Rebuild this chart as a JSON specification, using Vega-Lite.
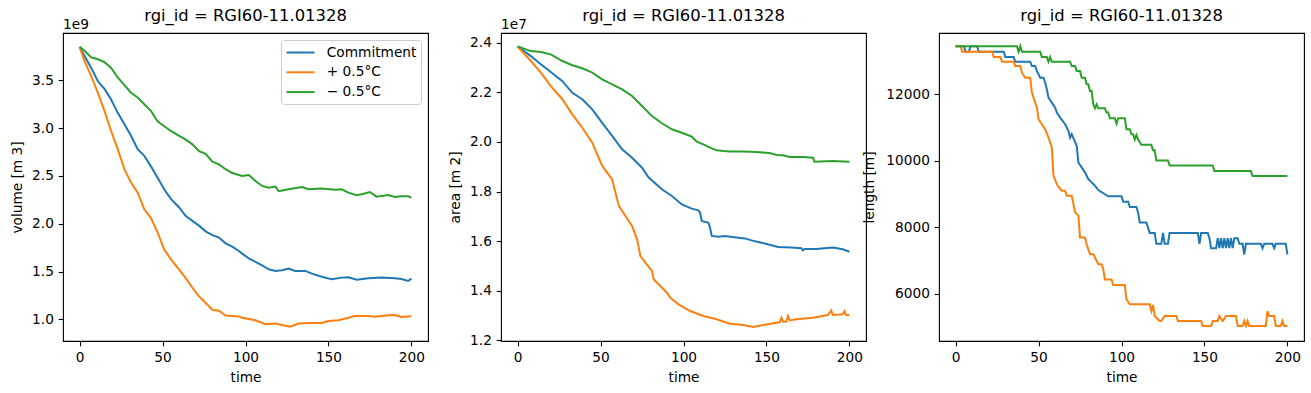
{
  "$schema": "https://vega.github.io/schema/vega-lite/v6.json",
  "background": "white",
  "padding": {"left": 10, "top": 7, "right": 0, "bottom": 0},
  "config": {
    "font": "DejaVu Sans",
    "view": {"stroke": "black", "strokeWidth": 1.1},
    "axis": {
      "grid": false, "domain": false,
      "tickColor": "black", "tickWidth": 1.1, "tickSize": 4.8,
      "labelPadding": 4.8, "labelFontSize": 13.7, "labelColor": "black",
      "titleFontSize": 13.7, "titleFontWeight": "normal", "titleColor": "black"
    },
    "axisX": {"titlePadding": 6},
    "title": {"fontSize": 16.4, "fontWeight": "normal", "color": "black", "offset": 8.3, "baseline": "alphabetic", "anchor": "middle"},
    "legend": {
      "orient": "top-right", "offset": 7, "padding": 4.5, "rowPadding": 4.8,
      "fillColor": "rgba(255,255,255,0.8)", "strokeColor": "#cccccc", "cornerRadius": 3,
      "symbolType": "M-1,0L3,0", "symbolSize": 196, "symbolStrokeWidth": 2,
      "labelFontSize": 13.7, "labelColor": "black", "labelOffset": 25.3, "title": null
    }
  },
  "datasets": {
    "vol": [
      {"s":"Commitment","t":0,"v":3.85e9},{"s":"Commitment","t":3,"v":3.755e9},{"s":"Commitment","t":7,"v":3.63e9},{"s":"Commitment","t":11,"v":3.49e9},{"s":"Commitment","t":13,"v":3.45e9},{"s":"Commitment","t":15,"v":3.41e9},{"s":"Commitment","t":19,"v":3.30e9},{"s":"Commitment","t":23,"v":3.16e9},{"s":"Commitment","t":27,"v":3.04e9},{"s":"Commitment","t":31,"v":2.92e9},{"s":"Commitment","t":35,"v":2.78e9},{"s":"Commitment","t":39,"v":2.71e9},{"s":"Commitment","t":43,"v":2.60e9},{"s":"Commitment","t":47,"v":2.48e9},{"s":"Commitment","t":51,"v":2.36e9},{"s":"Commitment","t":55,"v":2.26e9},{"s":"Commitment","t":60,"v":2.17e9},{"s":"Commitment","t":64,"v":2.08e9},{"s":"Commitment","t":68,"v":2.03e9},{"s":"Commitment","t":72,"v":1.98e9},{"s":"Commitment","t":76,"v":1.92e9},{"s":"Commitment","t":80,"v":1.88e9},{"s":"Commitment","t":84,"v":1.855e9},{"s":"Commitment","t":88,"v":1.795e9},{"s":"Commitment","t":92,"v":1.76e9},{"s":"Commitment","t":96,"v":1.715e9},{"s":"Commitment","t":98,"v":1.687e9},{"s":"Commitment","t":102,"v":1.638e9},{"s":"Commitment","t":106,"v":1.60e9},{"s":"Commitment","t":110,"v":1.565e9},{"s":"Commitment","t":114,"v":1.523e9},{"s":"Commitment","t":118,"v":1.506e9},{"s":"Commitment","t":122,"v":1.513e9},{"s":"Commitment","t":126,"v":1.53e9},{"s":"Commitment","t":130,"v":1.506e9},{"s":"Commitment","t":136,"v":1.506e9},{"s":"Commitment","t":140,"v":1.478e9},{"s":"Commitment","t":146,"v":1.446e9},{"s":"Commitment","t":152,"v":1.418e9},{"s":"Commitment","t":158,"v":1.436e9},{"s":"Commitment","t":162,"v":1.44e9},{"s":"Commitment","t":167,"v":1.415e9},{"s":"Commitment","t":174,"v":1.429e9},{"s":"Commitment","t":182,"v":1.436e9},{"s":"Commitment","t":190,"v":1.429e9},{"s":"Commitment","t":194,"v":1.422e9},{"s":"Commitment","t":198,"v":1.401e9},{"s":"Commitment","t":200,"v":1.425e9},
      {"s":"+ 0.5°C","t":0,"v":3.85e9},{"s":"+ 0.5°C","t":3,"v":3.70e9},{"s":"+ 0.5°C","t":7,"v":3.545e9},{"s":"+ 0.5°C","t":11,"v":3.37e9},{"s":"+ 0.5°C","t":15,"v":3.18e9},{"s":"+ 0.5°C","t":19,"v":2.97e9},{"s":"+ 0.5°C","t":23,"v":2.78e9},{"s":"+ 0.5°C","t":27,"v":2.57e9},{"s":"+ 0.5°C","t":31,"v":2.43e9},{"s":"+ 0.5°C","t":35,"v":2.325e9},{"s":"+ 0.5°C","t":39,"v":2.15e9},{"s":"+ 0.5°C","t":43,"v":2.06e9},{"s":"+ 0.5°C","t":47,"v":1.91e9},{"s":"+ 0.5°C","t":51,"v":1.73e9},{"s":"+ 0.5°C","t":55,"v":1.63e9},{"s":"+ 0.5°C","t":60,"v":1.52e9},{"s":"+ 0.5°C","t":64,"v":1.43e9},{"s":"+ 0.5°C","t":68,"v":1.33e9},{"s":"+ 0.5°C","t":72,"v":1.24e9},{"s":"+ 0.5°C","t":76,"v":1.17e9},{"s":"+ 0.5°C","t":80,"v":1.10e9},{"s":"+ 0.5°C","t":84,"v":1.09e9},{"s":"+ 0.5°C","t":88,"v":1.04e9},{"s":"+ 0.5°C","t":96,"v":1.03e9},{"s":"+ 0.5°C","t":98,"v":1.017e9},{"s":"+ 0.5°C","t":106,"v":0.99e9},{"s":"+ 0.5°C","t":112,"v":0.948e9},{"s":"+ 0.5°C","t":118,"v":0.955e9},{"s":"+ 0.5°C","t":122,"v":0.941e9},{"s":"+ 0.5°C","t":127,"v":0.923e9},{"s":"+ 0.5°C","t":132,"v":0.955e9},{"s":"+ 0.5°C","t":138,"v":0.962e9},{"s":"+ 0.5°C","t":146,"v":0.962e9},{"s":"+ 0.5°C","t":150,"v":0.983e9},{"s":"+ 0.5°C","t":156,"v":0.99e9},{"s":"+ 0.5°C","t":162,"v":1.017e9},{"s":"+ 0.5°C","t":166,"v":1.035e9},{"s":"+ 0.5°C","t":174,"v":1.035e9},{"s":"+ 0.5°C","t":178,"v":1.028e9},{"s":"+ 0.5°C","t":186,"v":1.042e9},{"s":"+ 0.5°C","t":190,"v":1.045e9},{"s":"+ 0.5°C","t":194,"v":1.024e9},{"s":"+ 0.5°C","t":200,"v":1.031e9},
      {"s":"− 0.5°C","t":0,"v":3.85e9},{"s":"− 0.5°C","t":3,"v":3.81e9},{"s":"− 0.5°C","t":7,"v":3.74e9},{"s":"− 0.5°C","t":11,"v":3.72e9},{"s":"− 0.5°C","t":15,"v":3.69e9},{"s":"− 0.5°C","t":19,"v":3.63e9},{"s":"− 0.5°C","t":23,"v":3.53e9},{"s":"− 0.5°C","t":27,"v":3.45e9},{"s":"− 0.5°C","t":31,"v":3.37e9},{"s":"− 0.5°C","t":35,"v":3.32e9},{"s":"− 0.5°C","t":39,"v":3.25e9},{"s":"− 0.5°C","t":43,"v":3.18e9},{"s":"− 0.5°C","t":47,"v":3.07e9},{"s":"− 0.5°C","t":51,"v":3.02e9},{"s":"− 0.5°C","t":55,"v":2.97e9},{"s":"− 0.5°C","t":60,"v":2.92e9},{"s":"− 0.5°C","t":64,"v":2.88e9},{"s":"− 0.5°C","t":68,"v":2.83e9},{"s":"− 0.5°C","t":72,"v":2.76e9},{"s":"− 0.5°C","t":76,"v":2.73e9},{"s":"− 0.5°C","t":80,"v":2.65e9},{"s":"− 0.5°C","t":84,"v":2.62e9},{"s":"− 0.5°C","t":88,"v":2.57e9},{"s":"− 0.5°C","t":92,"v":2.53e9},{"s":"− 0.5°C","t":96,"v":2.51e9},{"s":"− 0.5°C","t":98,"v":2.50e9},{"s":"− 0.5°C","t":102,"v":2.51e9},{"s":"− 0.5°C","t":106,"v":2.447e9},{"s":"− 0.5°C","t":110,"v":2.395e9},{"s":"− 0.5°C","t":114,"v":2.377e9},{"s":"− 0.5°C","t":118,"v":2.388e9},{"s":"− 0.5°C","t":120,"v":2.34e9},{"s":"− 0.5°C","t":126,"v":2.36e9},{"s":"− 0.5°C","t":134,"v":2.384e9},{"s":"− 0.5°C","t":138,"v":2.36e9},{"s":"− 0.5°C","t":146,"v":2.367e9},{"s":"− 0.5°C","t":154,"v":2.356e9},{"s":"− 0.5°C","t":158,"v":2.36e9},{"s":"− 0.5°C","t":162,"v":2.325e9},{"s":"− 0.5°C","t":167,"v":2.297e9},{"s":"− 0.5°C","t":170,"v":2.308e9},{"s":"− 0.5°C","t":175,"v":2.332e9},{"s":"− 0.5°C","t":179,"v":2.283e9},{"s":"− 0.5°C","t":186,"v":2.30e9},{"s":"− 0.5°C","t":190,"v":2.28e9},{"s":"− 0.5°C","t":194,"v":2.287e9},{"s":"− 0.5°C","t":198,"v":2.287e9},{"s":"− 0.5°C","t":200,"v":2.273e9}
    ],
    "area": [
      {"s":"Commitment","t":0,"v":2.385e7},{"s":"Commitment","t":8,"v":2.346e7},{"s":"Commitment","t":14,"v":2.313e7},{"s":"Commitment","t":20,"v":2.282e7},{"s":"Commitment","t":27,"v":2.245e7},{"s":"Commitment","t":33,"v":2.198e7},{"s":"Commitment","t":39,"v":2.172e7},{"s":"Commitment","t":45,"v":2.131e7},{"s":"Commitment","t":51,"v":2.077e7},{"s":"Commitment","t":57,"v":2.024e7},{"s":"Commitment","t":63,"v":1.97e7},{"s":"Commitment","t":69,"v":1.936e7},{"s":"Commitment","t":75,"v":1.896e7},{"s":"Commitment","t":79,"v":1.856e7},{"s":"Commitment","t":87,"v":1.809e7},{"s":"Commitment","t":93,"v":1.782e7},{"s":"Commitment","t":99,"v":1.748e7},{"s":"Commitment","t":105,"v":1.731e7},{"s":"Commitment","t":109,"v":1.724e7},{"s":"Commitment","t":110,"v":1.715e7},{"s":"Commitment","t":111,"v":1.681e7},{"s":"Commitment","t":115,"v":1.674e7},{"s":"Commitment","t":116,"v":1.654e7},{"s":"Commitment","t":117,"v":1.621e7},{"s":"Commitment","t":121,"v":1.618e7},{"s":"Commitment","t":125,"v":1.621e7},{"s":"Commitment","t":133,"v":1.614e7},{"s":"Commitment","t":137,"v":1.611e7},{"s":"Commitment","t":141,"v":1.603e7},{"s":"Commitment","t":149,"v":1.59e7},{"s":"Commitment","t":157,"v":1.576e7},{"s":"Commitment","t":165,"v":1.574e7},{"s":"Commitment","t":171,"v":1.571e7},{"s":"Commitment","t":172,"v":1.563e7},{"s":"Commitment","t":173,"v":1.568e7},{"s":"Commitment","t":180,"v":1.568e7},{"s":"Commitment","t":190,"v":1.574e7},{"s":"Commitment","t":196,"v":1.567e7},{"s":"Commitment","t":200,"v":1.557e7},
      {"s":"+ 0.5°C","t":0,"v":2.384e7},{"s":"+ 0.5°C","t":8,"v":2.326e7},{"s":"+ 0.5°C","t":14,"v":2.279e7},{"s":"+ 0.5°C","t":20,"v":2.225e7},{"s":"+ 0.5°C","t":27,"v":2.172e7},{"s":"+ 0.5°C","t":33,"v":2.111e7},{"s":"+ 0.5°C","t":39,"v":2.057e7},{"s":"+ 0.5°C","t":45,"v":1.997e7},{"s":"+ 0.5°C","t":51,"v":1.903e7},{"s":"+ 0.5°C","t":57,"v":1.849e7},{"s":"+ 0.5°C","t":61,"v":1.742e7},{"s":"+ 0.5°C","t":65,"v":1.701e7},{"s":"+ 0.5°C","t":69,"v":1.661e7},{"s":"+ 0.5°C","t":72,"v":1.607e7},{"s":"+ 0.5°C","t":74,"v":1.54e7},{"s":"+ 0.5°C","t":77,"v":1.513e7},{"s":"+ 0.5°C","t":81,"v":1.48e7},{"s":"+ 0.5°C","t":82,"v":1.446e7},{"s":"+ 0.5°C","t":85,"v":1.426e7},{"s":"+ 0.5°C","t":90,"v":1.392e7},{"s":"+ 0.5°C","t":92,"v":1.372e7},{"s":"+ 0.5°C","t":97,"v":1.345e7},{"s":"+ 0.5°C","t":104,"v":1.318e7},{"s":"+ 0.5°C","t":112,"v":1.298e7},{"s":"+ 0.5°C","t":120,"v":1.285e7},{"s":"+ 0.5°C","t":128,"v":1.267e7},{"s":"+ 0.5°C","t":136,"v":1.262e7},{"s":"+ 0.5°C","t":142,"v":1.254e7},{"s":"+ 0.5°C","t":148,"v":1.262e7},{"s":"+ 0.5°C","t":156,"v":1.271e7},{"s":"+ 0.5°C","t":158,"v":1.273e7},{"s":"+ 0.5°C","t":159,"v":1.291e7},{"s":"+ 0.5°C","t":160,"v":1.275e7},{"s":"+ 0.5°C","t":162,"v":1.276e7},{"s":"+ 0.5°C","t":163,"v":1.298e7},{"s":"+ 0.5°C","t":164,"v":1.28e7},{"s":"+ 0.5°C","t":168,"v":1.285e7},{"s":"+ 0.5°C","t":178,"v":1.291e7},{"s":"+ 0.5°C","t":187,"v":1.302e7},{"s":"+ 0.5°C","t":189,"v":1.321e7},{"s":"+ 0.5°C","t":190,"v":1.302e7},{"s":"+ 0.5°C","t":196,"v":1.305e7},{"s":"+ 0.5°C","t":197,"v":1.318e7},{"s":"+ 0.5°C","t":198,"v":1.302e7},{"s":"+ 0.5°C","t":200,"v":1.302e7},
      {"s":"− 0.5°C","t":0,"v":2.385e7},{"s":"− 0.5°C","t":8,"v":2.366e7},{"s":"− 0.5°C","t":14,"v":2.362e7},{"s":"− 0.5°C","t":20,"v":2.353e7},{"s":"− 0.5°C","t":27,"v":2.326e7},{"s":"− 0.5°C","t":33,"v":2.309e7},{"s":"− 0.5°C","t":39,"v":2.297e7},{"s":"− 0.5°C","t":45,"v":2.279e7},{"s":"− 0.5°C","t":51,"v":2.252e7},{"s":"− 0.5°C","t":57,"v":2.232e7},{"s":"− 0.5°C","t":63,"v":2.212e7},{"s":"− 0.5°C","t":69,"v":2.185e7},{"s":"− 0.5°C","t":75,"v":2.145e7},{"s":"− 0.5°C","t":81,"v":2.104e7},{"s":"− 0.5°C","t":87,"v":2.075e7},{"s":"− 0.5°C","t":93,"v":2.051e7},{"s":"− 0.5°C","t":99,"v":2.037e7},{"s":"− 0.5°C","t":105,"v":2.021e7},{"s":"− 0.5°C","t":108,"v":2.001e7},{"s":"− 0.5°C","t":112,"v":1.99e7},{"s":"− 0.5°C","t":116,"v":1.977e7},{"s":"− 0.5°C","t":120,"v":1.966e7},{"s":"− 0.5°C","t":124,"v":1.963e7},{"s":"− 0.5°C","t":128,"v":1.961e7},{"s":"− 0.5°C","t":136,"v":1.961e7},{"s":"− 0.5°C","t":144,"v":1.959e7},{"s":"− 0.5°C","t":152,"v":1.955e7},{"s":"− 0.5°C","t":156,"v":1.947e7},{"s":"− 0.5°C","t":160,"v":1.946e7},{"s":"− 0.5°C","t":164,"v":1.939e7},{"s":"− 0.5°C","t":172,"v":1.939e7},{"s":"− 0.5°C","t":178,"v":1.936e7},{"s":"− 0.5°C","t":179,"v":1.92e7},{"s":"− 0.5°C","t":190,"v":1.923e7},{"s":"− 0.5°C","t":200,"v":1.92e7}
    ],
    "len": [
      {"s":"Commitment","t":0,"v":13450},{"s":"Commitment","t":5,"v":13450},{"s":"Commitment","t":6,"v":13280},{"s":"Commitment","t":8,"v":13280},{"s":"Commitment","t":9,"v":13450},{"s":"Commitment","t":13,"v":13450},{"s":"Commitment","t":14,"v":13280},{"s":"Commitment","t":29,"v":13280},{"s":"Commitment","t":30,"v":13120},{"s":"Commitment","t":35,"v":13120},{"s":"Commitment","t":36,"v":12980},{"s":"Commitment","t":45,"v":12980},{"s":"Commitment","t":46,"v":12850},{"s":"Commitment","t":48,"v":12850},{"s":"Commitment","t":49,"v":12700},{"s":"Commitment","t":50,"v":12600},{"s":"Commitment","t":51,"v":12500},{"s":"Commitment","t":53,"v":12500},{"s":"Commitment","t":54,"v":12350},{"s":"Commitment","t":55,"v":12150},{"s":"Commitment","t":56,"v":11900},{"s":"Commitment","t":58,"v":11750},{"s":"Commitment","t":60,"v":11600},{"s":"Commitment","t":61,"v":11450},{"s":"Commitment","t":63,"v":11300},{"s":"Commitment","t":66,"v":11100},{"s":"Commitment","t":68,"v":10900},{"s":"Commitment","t":69,"v":10700},{"s":"Commitment","t":70,"v":10800},{"s":"Commitment","t":71,"v":10680},{"s":"Commitment","t":73,"v":10450},{"s":"Commitment","t":74,"v":9950},{"s":"Commitment","t":76,"v":9800},{"s":"Commitment","t":78,"v":9650},{"s":"Commitment","t":80,"v":9450},{"s":"Commitment","t":82,"v":9350},{"s":"Commitment","t":84,"v":9250},{"s":"Commitment","t":86,"v":9120},{"s":"Commitment","t":92,"v":8930},{"s":"Commitment","t":100,"v":8930},{"s":"Commitment","t":101,"v":8770},{"s":"Commitment","t":104,"v":8770},{"s":"Commitment","t":105,"v":8610},{"s":"Commitment","t":109,"v":8610},{"s":"Commitment","t":110,"v":8440},{"s":"Commitment","t":111,"v":8140},{"s":"Commitment","t":115,"v":8140},{"s":"Commitment","t":116,"v":7990},{"s":"Commitment","t":117,"v":7830},{"s":"Commitment","t":120,"v":7830},{"s":"Commitment","t":121,"v":7500},{"s":"Commitment","t":124,"v":7500},{"s":"Commitment","t":125,"v":7830},{"s":"Commitment","t":126,"v":7500},{"s":"Commitment","t":128,"v":7500},{"s":"Commitment","t":129,"v":7830},{"s":"Commitment","t":146,"v":7830},{"s":"Commitment","t":147,"v":7500},{"s":"Commitment","t":148,"v":7830},{"s":"Commitment","t":152,"v":7830},{"s":"Commitment","t":153,"v":7670},{"s":"Commitment","t":154,"v":7370},{"s":"Commitment","t":157,"v":7370},{"s":"Commitment","t":158,"v":7670},{"s":"Commitment","t":159,"v":7370},{"s":"Commitment","t":160,"v":7670},{"s":"Commitment","t":161,"v":7370},{"s":"Commitment","t":162,"v":7670},{"s":"Commitment","t":163,"v":7370},{"s":"Commitment","t":164,"v":7670},{"s":"Commitment","t":165,"v":7370},{"s":"Commitment","t":166,"v":7670},{"s":"Commitment","t":167,"v":7370},{"s":"Commitment","t":168,"v":7670},{"s":"Commitment","t":170,"v":7670},{"s":"Commitment","t":171,"v":7500},{"s":"Commitment","t":173,"v":7500},{"s":"Commitment","t":174,"v":7180},{"s":"Commitment","t":175,"v":7500},{"s":"Commitment","t":184,"v":7500},{"s":"Commitment","t":185,"v":7370},{"s":"Commitment","t":186,"v":7500},{"s":"Commitment","t":191,"v":7500},{"s":"Commitment","t":192,"v":7370},{"s":"Commitment","t":193,"v":7500},{"s":"Commitment","t":199,"v":7500},{"s":"Commitment","t":200,"v":7180},
      {"s":"+ 0.5°C","t":0,"v":13450},{"s":"+ 0.5°C","t":3,"v":13450},{"s":"+ 0.5°C","t":4,"v":13280},{"s":"+ 0.5°C","t":22,"v":13280},{"s":"+ 0.5°C","t":23,"v":13120},{"s":"+ 0.5°C","t":27,"v":13120},{"s":"+ 0.5°C","t":28,"v":12980},{"s":"+ 0.5°C","t":35,"v":12980},{"s":"+ 0.5°C","t":36,"v":12850},{"s":"+ 0.5°C","t":39,"v":12850},{"s":"+ 0.5°C","t":40,"v":12650},{"s":"+ 0.5°C","t":42,"v":12500},{"s":"+ 0.5°C","t":45,"v":12500},{"s":"+ 0.5°C","t":46,"v":12050},{"s":"+ 0.5°C","t":47,"v":11900},{"s":"+ 0.5°C","t":49,"v":11600},{"s":"+ 0.5°C","t":50,"v":11250},{"s":"+ 0.5°C","t":52,"v":11100},{"s":"+ 0.5°C","t":54,"v":10950},{"s":"+ 0.5°C","t":56,"v":10700},{"s":"+ 0.5°C","t":58,"v":10400},{"s":"+ 0.5°C","t":59,"v":9550},{"s":"+ 0.5°C","t":61,"v":9300},{"s":"+ 0.5°C","t":62,"v":9220},{"s":"+ 0.5°C","t":64,"v":9100},{"s":"+ 0.5°C","t":66,"v":9100},{"s":"+ 0.5°C","t":67,"v":8950},{"s":"+ 0.5°C","t":70,"v":8950},{"s":"+ 0.5°C","t":71,"v":8700},{"s":"+ 0.5°C","t":72,"v":8450},{"s":"+ 0.5°C","t":74,"v":8350},{"s":"+ 0.5°C","t":75,"v":7690},{"s":"+ 0.5°C","t":78,"v":7690},{"s":"+ 0.5°C","t":79,"v":7490},{"s":"+ 0.5°C","t":81,"v":7190},{"s":"+ 0.5°C","t":83,"v":7190},{"s":"+ 0.5°C","t":84,"v":7090},{"s":"+ 0.5°C","t":86,"v":6890},{"s":"+ 0.5°C","t":88,"v":6890},{"s":"+ 0.5°C","t":89,"v":6740},{"s":"+ 0.5°C","t":90,"v":6430},{"s":"+ 0.5°C","t":94,"v":6430},{"s":"+ 0.5°C","t":95,"v":6260},{"s":"+ 0.5°C","t":102,"v":6260},{"s":"+ 0.5°C","t":103,"v":5830},{"s":"+ 0.5°C","t":105,"v":5680},{"s":"+ 0.5°C","t":117,"v":5680},{"s":"+ 0.5°C","t":118,"v":5480},{"s":"+ 0.5°C","t":119,"v":5660},{"s":"+ 0.5°C","t":120,"v":5330},{"s":"+ 0.5°C","t":123,"v":5180},{"s":"+ 0.5°C","t":124,"v":5180},{"s":"+ 0.5°C","t":126,"v":5330},{"s":"+ 0.5°C","t":133,"v":5330},{"s":"+ 0.5°C","t":134,"v":5180},{"s":"+ 0.5°C","t":148,"v":5180},{"s":"+ 0.5°C","t":149,"v":5030},{"s":"+ 0.5°C","t":154,"v":5030},{"s":"+ 0.5°C","t":155,"v":5180},{"s":"+ 0.5°C","t":158,"v":5180},{"s":"+ 0.5°C","t":159,"v":5330},{"s":"+ 0.5°C","t":161,"v":5180},{"s":"+ 0.5°C","t":163,"v":5330},{"s":"+ 0.5°C","t":169,"v":5330},{"s":"+ 0.5°C","t":170,"v":5030},{"s":"+ 0.5°C","t":173,"v":5030},{"s":"+ 0.5°C","t":174,"v":5180},{"s":"+ 0.5°C","t":175,"v":5030},{"s":"+ 0.5°C","t":176,"v":5180},{"s":"+ 0.5°C","t":177,"v":5030},{"s":"+ 0.5°C","t":187,"v":5030},{"s":"+ 0.5°C","t":188,"v":5480},{"s":"+ 0.5°C","t":189,"v":5330},{"s":"+ 0.5°C","t":192,"v":5330},{"s":"+ 0.5°C","t":193,"v":5030},{"s":"+ 0.5°C","t":196,"v":5030},{"s":"+ 0.5°C","t":197,"v":5180},{"s":"+ 0.5°C","t":198,"v":5030},{"s":"+ 0.5°C","t":200,"v":5030},
      {"s":"− 0.5°C","t":0,"v":13450},{"s":"− 0.5°C","t":37,"v":13450},{"s":"− 0.5°C","t":38,"v":13280},{"s":"− 0.5°C","t":39,"v":13450},{"s":"− 0.5°C","t":40,"v":13280},{"s":"− 0.5°C","t":51,"v":13280},{"s":"− 0.5°C","t":52,"v":13120},{"s":"− 0.5°C","t":55,"v":13120},{"s":"− 0.5°C","t":56,"v":12980},{"s":"− 0.5°C","t":57,"v":13120},{"s":"− 0.5°C","t":58,"v":12980},{"s":"− 0.5°C","t":69,"v":12980},{"s":"− 0.5°C","t":70,"v":12850},{"s":"− 0.5°C","t":72,"v":12850},{"s":"− 0.5°C","t":73,"v":12700},{"s":"− 0.5°C","t":75,"v":12700},{"s":"− 0.5°C","t":76,"v":12500},{"s":"− 0.5°C","t":78,"v":12500},{"s":"− 0.5°C","t":79,"v":12300},{"s":"− 0.5°C","t":80,"v":12300},{"s":"− 0.5°C","t":81,"v":12100},{"s":"− 0.5°C","t":82,"v":12100},{"s":"− 0.5°C","t":83,"v":11700},{"s":"− 0.5°C","t":84,"v":11580},{"s":"− 0.5°C","t":85,"v":11700},{"s":"− 0.5°C","t":86,"v":11580},{"s":"− 0.5°C","t":90,"v":11580},{"s":"− 0.5°C","t":91,"v":11450},{"s":"− 0.5°C","t":92,"v":11450},{"s":"− 0.5°C","t":93,"v":11280},{"s":"− 0.5°C","t":96,"v":11280},{"s":"− 0.5°C","t":97,"v":11120},{"s":"− 0.5°C","t":98,"v":11280},{"s":"− 0.5°C","t":102,"v":11280},{"s":"− 0.5°C","t":103,"v":10950},{"s":"− 0.5°C","t":105,"v":10950},{"s":"− 0.5°C","t":106,"v":10800},{"s":"− 0.5°C","t":107,"v":10800},{"s":"− 0.5°C","t":108,"v":10640},{"s":"− 0.5°C","t":109,"v":10780},{"s":"− 0.5°C","t":110,"v":10640},{"s":"− 0.5°C","t":112,"v":10480},{"s":"− 0.5°C","t":118,"v":10480},{"s":"− 0.5°C","t":119,"v":10320},{"s":"− 0.5°C","t":120,"v":10320},{"s":"− 0.5°C","t":121,"v":10010},{"s":"− 0.5°C","t":128,"v":10010},{"s":"− 0.5°C","t":129,"v":9860},{"s":"− 0.5°C","t":155,"v":9860},{"s":"− 0.5°C","t":156,"v":9690},{"s":"− 0.5°C","t":178,"v":9690},{"s":"− 0.5°C","t":179,"v":9540},{"s":"− 0.5°C","t":200,"v":9540}
    ]
  },
  "spacing": 73,
  "bounds": "flush",
  "resolve": {"scale": {"color": "independent", "y": "independent"}, "legend": {"color": "independent"}},
  "hconcat": [
    {
      "width": 365, "height": 308,
      "title": {"text": "rgi_id = RGI60-11.01328", "dy": 15},
      "layer": [
        {
          "data": {"name": "vol"},
          "mark": {"type": "line", "strokeWidth": 2},
          "encoding": {
            "x": {"field": "t", "type": "quantitative", "title": "time", "scale": {"domain": [-10, 210], "nice": false, "zero": false}, "axis": {"values": [0, 50, 100, 150, 200]}},
            "y": {"field": "v", "type": "quantitative", "title": "volume [m 3]", "scale": {"domain": [0.773e9, 3.995e9], "nice": false, "zero": false}, "axis": {"values": [1e9, 1.5e9, 2e9, 2.5e9, 3e9, 3.5e9], "labelExpr": "format(datum.value/1e9, '.1f')", "minExtent": 31.4, "maxExtent": 31.4, "titlePadding": 7}},
            "color": {"field": "s", "type": "nominal", "scale": {"domain": ["Commitment", "+ 0.5°C", "− 0.5°C"], "range": ["#1f77b4", "#ff7f0e", "#2ca02c"]}, "legend": {}}
          }
        },
        {
          "data": {"values": [{"label": "1e9"}]},
          "mark": {"type": "text", "align": "left", "baseline": "alphabetic", "dy": -4.5, "fontSize": 13.7, "color": "black"},
          "encoding": {
            "x": {"datum": -10, "type": "quantitative", "title": "time"},
            "y": {"datum": 3.995e9, "type": "quantitative", "title": "volume [m 3]"},
            "text": {"field": "label"}
          }
        }
      ]
    },
    {
      "width": 365, "height": 308,
      "title": {"text": "rgi_id = RGI60-11.01328", "dy": 15},
      "layer": [
        {
          "data": {"name": "area"},
          "mark": {"type": "line", "strokeWidth": 2},
          "encoding": {
            "x": {"field": "t", "type": "quantitative", "title": "time", "scale": {"domain": [-10, 210], "nice": false, "zero": false}, "axis": {"values": [0, 50, 100, 150, 200]}},
            "y": {"field": "v", "type": "quantitative", "title": "area [m 2]", "scale": {"domain": [1.1973e7, 2.439e7], "nice": false, "zero": false}, "axis": {"values": [1.2e7, 1.4e7, 1.6e7, 1.8e7, 2.0e7, 2.2e7, 2.4e7], "labelExpr": "format(datum.value/1e7, '.1f')", "minExtent": 31.4, "maxExtent": 31.4, "titlePadding": 7.5}},
            "color": {"field": "s", "type": "nominal", "scale": {"domain": ["Commitment", "+ 0.5°C", "− 0.5°C"], "range": ["#1f77b4", "#ff7f0e", "#2ca02c"]}, "legend": null}
          }
        },
        {
          "data": {"values": [{"label": "1e7"}]},
          "mark": {"type": "text", "align": "left", "baseline": "alphabetic", "dy": -4.5, "fontSize": 13.7, "color": "black"},
          "encoding": {
            "x": {"datum": -10, "type": "quantitative", "title": "time"},
            "y": {"datum": 2.439e7, "type": "quantitative", "title": "area [m 2]"},
            "text": {"field": "label"}
          }
        }
      ]
    },
    {
      "width": 365, "height": 308,
      "title": {"text": "rgi_id = RGI60-11.01328"},
      "data": {"name": "len"},
      "mark": {"type": "line", "strokeWidth": 2},
      "encoding": {
        "x": {"field": "t", "type": "quantitative", "title": "time", "scale": {"domain": [-10, 210], "nice": false, "zero": false}, "axis": {"values": [0, 50, 100, 150, 200]}},
        "y": {"field": "v", "type": "quantitative", "title": "length [m]", "scale": {"domain": [4577, 13845], "nice": false, "zero": false}, "axis": {"values": [6000, 8000, 10000, 12000], "format": "d", "minExtent": 53.2, "maxExtent": 53.2, "titlePadding": 9}},
        "color": {"field": "s", "type": "nominal", "scale": {"domain": ["Commitment", "+ 0.5°C", "− 0.5°C"], "range": ["#1f77b4", "#ff7f0e", "#2ca02c"]}, "legend": null}
      }
    }
  ]
}
